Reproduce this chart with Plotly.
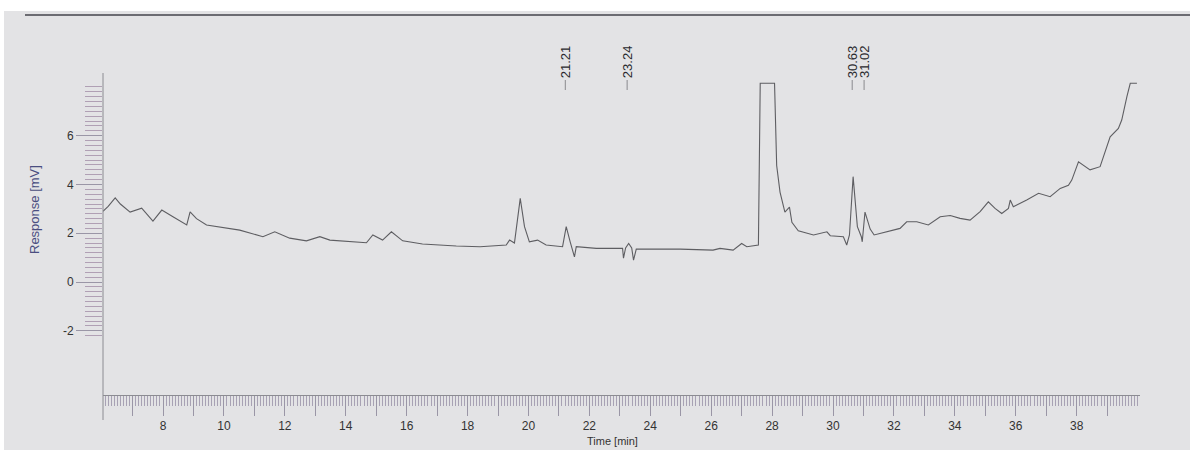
import plotly.graph_objects as go

# ---- data ----
time_min = [6.03, 6.2, 6.43, 6.6, 6.92, 7.30, 7.67, 7.96, 8.3, 8.78, 8.89, 9.1, 9.43,
            10.09, 10.52, 11.28, 11.67, 12.16, 12.71, 13.15, 13.48, 14.68, 14.89, 15.21,
            15.50, 15.87, 16.52, 17.63, 18.41, 19.27, 19.38, 19.54, 19.73, 19.87, 20.03,
            20.30, 20.58, 21.12, 21.24, 21.37, 21.51, 21.57, 22.23, 23.09, 23.12, 23.19,
            23.29, 23.39, 23.45, 23.54, 24.98, 26.06, 26.29, 26.72, 27.00, 27.17, 27.55,
            27.61, 28.08, 28.15, 28.26, 28.42, 28.57, 28.65, 28.86, 29.36, 29.80, 29.91,
            30.34, 30.45, 30.54, 30.66, 30.80, 30.93, 30.96, 31.05, 31.22, 31.35, 31.77,
            32.20, 32.42, 32.75, 33.13, 33.52, 33.85, 34.17, 34.50, 34.83, 35.10, 35.32,
            35.54, 35.76, 35.82, 35.92, 36.36, 36.75, 37.13, 37.46, 37.73, 37.84, 38.06,
            38.44, 38.77, 38.88, 39.10, 39.37, 39.48, 39.65, 39.76, 39.98]
response_mv = [2.90, 3.10, 3.45, 3.20, 2.87, 3.03, 2.50, 2.95, 2.70, 2.34, 2.88, 2.60, 2.34,
               2.21, 2.13, 1.86, 2.06, 1.80, 1.69, 1.86, 1.72, 1.61, 1.93, 1.72,
               2.06, 1.69, 1.56, 1.48, 1.45, 1.52, 1.72, 1.60, 3.43, 2.27, 1.65,
               1.72, 1.52, 1.45, 2.27, 1.65, 1.03, 1.45, 1.38, 1.38, 0.98, 1.40,
               1.58, 1.40, 0.90, 1.35, 1.35, 1.31, 1.38, 1.31, 1.58, 1.45, 1.52,
               8.15, 8.15, 4.78, 3.69, 2.87, 3.07, 2.45, 2.10, 1.93, 2.06, 1.90,
               1.86, 1.52, 1.93, 4.32, 2.27, 1.86, 1.65, 2.87, 2.17, 1.93, 2.06,
               2.20, 2.47, 2.47, 2.34, 2.68, 2.73, 2.61, 2.54, 2.89, 3.29, 3.02,
               2.81, 3.02, 3.36, 3.09, 3.36, 3.64, 3.50, 3.84, 3.97, 4.18, 4.93,
               4.60, 4.73, 5.14, 5.95, 6.30, 6.64, 7.60, 8.15, 8.15]

peak_times = [21.21, 23.24, 30.63, 31.02]
peak_labels = ["21.21", "23.24", "30.63", "31.02"]

x_tick_vals = list(range(7, 40))
x_tick_text = [str(v) if v % 2 == 0 else "" for v in x_tick_vals]
y_tick_vals = [-2, 0, 2, 4, 6]
y_tick_text = ["-2", "0", "2", "4", "6"]

# ---- layout geometry (pixels) ----
W, H = 1190, 450
L, R, T, B = 103, 50, 73, 55
pw, ph = W - L - R, H - T - B

def px_x(p):
    return (p - L) / pw

def px_y(p):
    return (H - B - p) / ph

bg = "#e3e3e5"
fig = go.Figure()
fig.add_trace(go.Scatter(x=time_min, y=response_mv, mode="lines",
                         line=dict(color="#5e5e62", width=1.1),
                         hoverinfo="skip", showlegend=False))

annotations = []
shapes = []
for t, lab in zip(peak_times, peak_labels):
    annotations.append(dict(x=t, xref="x", y=px_y(62), yref="paper", text=lab,
                            textangle=-90, showarrow=False, xanchor="center",
                            yanchor="middle",
                            font=dict(family="Liberation Sans", size=13, color="#2a2a2e")))
    shapes.append(dict(type="line", xref="x", yref="paper", x0=t, x1=t,
                       y0=px_y(80), y1=px_y(90), line=dict(color="#8a8a8e", width=1)))

annotations.append(dict(x=px_x(34), xref="paper", y=px_y(210), yref="paper",
                        text="Response [mV]", textangle=-90, showarrow=False,
                        xanchor="center", yanchor="middle",
                        font=dict(family="Liberation Sans", size=13, color="#4a4e80")))
annotations.append(dict(x=px_x(612), xref="paper", y=px_y(441), yref="paper",
                        text="Time [min]", showarrow=False,
                        xanchor="center", yanchor="middle",
                        font=dict(family="Liberation Sans", size=11, color="#333")))

# scan edges: white strips and dark top line
shapes.append(dict(type="rect", xref="paper", yref="paper", x0=px_x(-5), x1=px_x(1195),
                   y0=px_y(11), y1=px_y(-5), fillcolor="white", line=dict(width=0)))
shapes.append(dict(type="rect", xref="paper", yref="paper", x0=px_x(-5), x1=px_x(4),
                   y0=px_y(455), y1=px_y(-5), fillcolor="white", line=dict(width=0)))
shapes.append(dict(type="line", xref="paper", yref="paper", x0=px_x(25), x1=px_x(1190),
                   y0=px_y(15), y1=px_y(15), line=dict(color="#6c6c72", width=2)))
# y axis line extends below the x axis
shapes.append(dict(type="line", xref="paper", yref="paper", x0=0, x1=0,
                   y0=px_y(420), y1=px_y(73), line=dict(color="#8c8c92", width=1)))

fig.update_layout(
    width=W, height=H,
    margin=dict(l=L, r=R, t=T, b=B),
    paper_bgcolor=bg, plot_bgcolor=bg,
    showlegend=False,
    annotations=annotations, shapes=shapes,
    xaxis=dict(range=[6.03, 40.08], showgrid=False, zeroline=False,
               showline=True, linecolor="#8c8c92", linewidth=1,
               tickmode="array", tickvals=x_tick_vals, ticktext=x_tick_text,
               ticks="outside", ticklen=20, tickcolor="#9a96a6", tickwidth=1,
               tickfont=dict(family="Liberation Sans", size=12, color="#333"),
               minor=dict(dtick=0.1, tick0=6.0, ticks="outside", ticklen=10,
                          tickcolor="#a8a2b4", tickwidth=1, showgrid=False)),
    yaxis=dict(range=[-4.63, 8.57], showgrid=False, zeroline=False,
               showline=False,
               tickmode="array", tickvals=y_tick_vals, ticktext=y_tick_text,
               ticks="outside", ticklen=26, tickcolor="#9a96a6", tickwidth=1,
               tickfont=dict(family="Liberation Sans", size=12, color="#333"),
               minor=dict(tickmode="array",
                          tickvals=[round(-2.2 + 0.2 * i, 1) for i in range(52)],
                          ticks="outside", ticklen=17, tickcolor="#b0a0b4",
                          tickwidth=1, showgrid=False)),
)

fig.write_html("out.html")
